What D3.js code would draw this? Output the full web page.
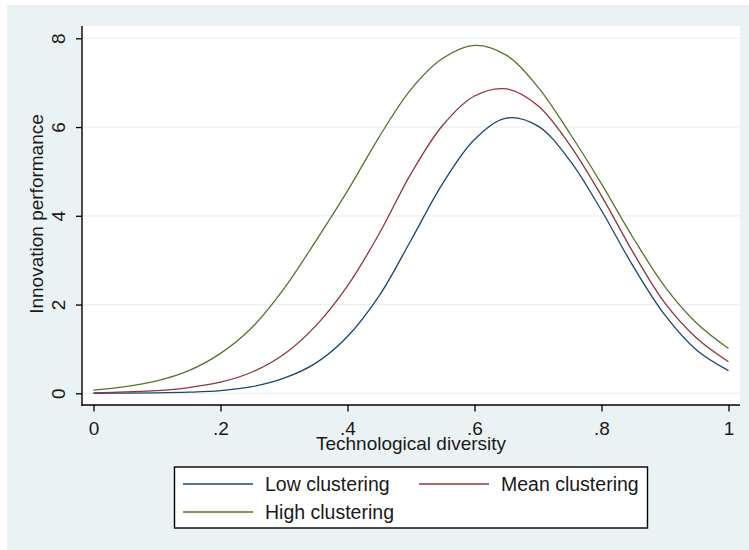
<!DOCTYPE html>
<html><head><meta charset="utf-8">
<script src="https://cdn.jsdelivr.net/npm/d3@7"></script>
<style>body{margin:0;background:#fff}svg{display:block}text{font-family:"Liberation Sans",Arial,sans-serif;fill:#1a1a1a}</style>
</head><body>
<svg id="c" width="749" height="550"></svg>
<script>
const xValues = [0,0.05,0.1,0.15,0.2,0.25,0.3,0.35,0.4,0.45,0.5,0.55,0.6,0.65,0.7,0.75,0.8,0.85,0.9,0.95,1];
const lowClustering  = [0,0.005,0.01,0.025,0.06,0.15,0.34,0.68,1.28,2.2,3.45,4.73,5.72,6.2,6.02,5.25,4.12,2.86,1.76,0.97,0.51];
const meanClustering = [0.01,0.03,0.06,0.13,0.25,0.48,0.88,1.52,2.42,3.6,4.95,6.04,6.7,6.86,6.48,5.6,4.45,3.17,2.03,1.24,0.71];
const highClustering = [0.07,0.15,0.28,0.51,0.9,1.49,2.36,3.43,4.56,5.78,6.85,7.55,7.84,7.62,6.9,5.86,4.72,3.5,2.4,1.58,1.01];
const xTicks = [0,0.2,0.4,0.6,0.8,1];
const xTickLabels = ["0",".2",".4",".6",".8","1"];
const yTicks = [0,2,4,6,8];
const seriesNames = ["Low clustering","Mean clustering","High clustering"];
const seriesColors = ["#1a476f","#90353b","#55752f"];

const svg = d3.select("#c");
svg.append("rect").attr("x",7).attr("y",5).attr("width",742).attr("height",545).attr("fill","#eaf2f3");
const L=82,R=740,T=26,B=405;
svg.append("rect").attr("x",L).attr("y",T).attr("width",R-L).attr("height",B-T).attr("fill","#fff");

const x = d3.scaleLinear().domain([0,1]).range([93.5,728.5]);
const y = d3.scaleLinear().domain([0,8]).range([393.3,38.3]);

// gridlines
svg.append("g").selectAll("line").data(yTicks).join("line")
  .attr("x1",L).attr("x2",R).attr("y1",d=>y(d)).attr("y2",d=>y(d))
  .attr("stroke","#eaf2f3").attr("stroke-width",1.3);

// series
const data = [lowClustering, meanClustering, highClustering];
const line = d3.line().x((d,i)=>x(xValues[i])).y(d=>y(d)).curve(d3.curveCatmullRom.alpha(0.5));
data.forEach((s,k)=>{
  svg.append("path").datum(s).attr("d",line).attr("fill","none")
    .attr("stroke",seriesColors[k]).attr("stroke-width",1.3);
});

// axes
const yAxis = svg.append("g").attr("transform",`translate(${L},0)`)
  .call(d3.axisLeft(y).tickValues(yTicks).tickSize(6).tickPadding(0).tickFormat(d3.format("d")));
yAxis.select(".domain").remove();
yAxis.selectAll(".tick line").attr("stroke","#000").attr("stroke-width",1.3);
yAxis.selectAll(".tick text").attr("transform","rotate(-90)")
  .attr("x",0).attr("y",-17).attr("dy",0).attr("text-anchor","middle")
  .style("font-size","19px").style("font-family","'Liberation Sans',Arial,sans-serif").attr("fill","#1a1a1a");

const xAxis = svg.append("g").attr("transform",`translate(0,${B})`)
  .call(d3.axisBottom(x).tickValues(xTicks).tickSize(6.5).tickPadding(0).tickFormat((d,i)=>xTickLabels[i]));
xAxis.select(".domain").remove();
xAxis.selectAll(".tick line").attr("stroke","#000").attr("stroke-width",1.3);
xAxis.selectAll(".tick text").attr("y",30).attr("dy",0)
  .style("font-size","19px").style("font-family","'Liberation Sans',Arial,sans-serif").attr("fill","#1a1a1a");

svg.append("line").attr("x1",L).attr("x2",L).attr("y1",T).attr("y2",B+0.7).attr("stroke","#000").attr("stroke-width",1.4);
svg.append("line").attr("x1",L-0.7).attr("x2",R).attr("y1",B).attr("y2",B).attr("stroke","#000").attr("stroke-width",1.4);

// titles
svg.append("text").attr("x",411).attr("y",450).attr("text-anchor","middle").style("font-size","19px").text("Technological diversity");
svg.append("text").attr("transform","translate(43,214) rotate(-90)").attr("text-anchor","middle").style("font-size","19px").text("Innovation performance");

// legend
svg.append("rect").attr("x",174.5).attr("y",467).attr("width",473).attr("height",61).attr("fill","#fff").attr("stroke","#000").attr("stroke-width",1.4);
const legPos = [[183,484],[419,484],[183,512]];
seriesNames.forEach((n,k)=>{
  const [lx,ly]=legPos[k];
  svg.append("line").attr("x1",lx).attr("x2",lx+70).attr("y1",ly).attr("y2",ly).attr("stroke",seriesColors[k]).attr("stroke-width",1.3);
  svg.append("text").attr("x",lx+82).attr("y",ly+7).style("font-size","19.5px").text(n);
});
</script>
</body></html>
